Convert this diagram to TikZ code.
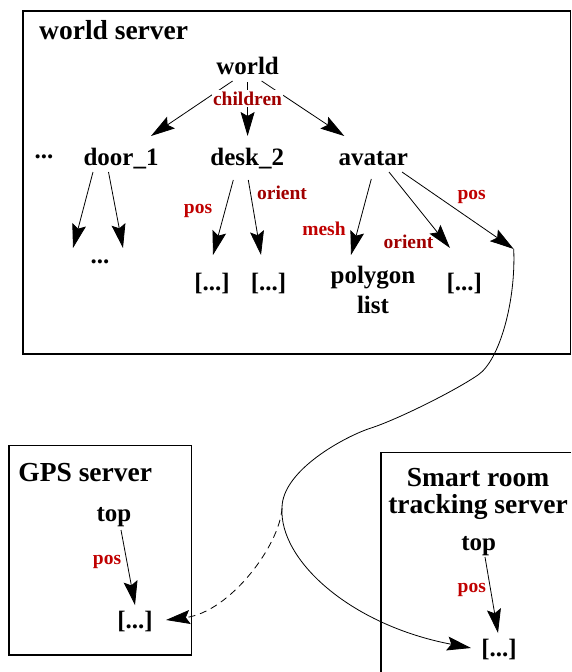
\documentclass[tikz,border=0pt]{standalone}
\usepackage{fontspec}
\setmainfont{Liberation Serif}
\usetikzlibrary{arrows.meta,calc}

\begin{document}
\begin{tikzpicture}[x=1pt, y=-1pt,
  title/.style={font=\bfseries\fontsize{27.5}{27.5}\selectfont, inner sep=0pt},
  obj/.style={font=\bfseries\fontsize{25}{30}\selectfont, inner sep=0pt},
  lbl/.style={font=\bfseries\fontsize{19.5}{20}\selectfont, inner sep=0pt, text=lblred},
  arr/.style={-{Stealth[length=24pt,width=14pt,inset=4pt]}, line width=0.8pt},
  box/.style={line width=1.1pt}]
\definecolor{lblred}{HTML}{C00000}
\definecolor{lbldark}{HTML}{A00000}
\useasboundingbox (0,0) rectangle (571,672);

% server boxes
\draw[box] (23,11) rectangle (570.3,354);
\draw[box] (9,445.7) rectangle (191.7,655);
\draw[box] (571,452.7) -- (381,452.7) -- (381,672);

% world server
\node[title, anchor=base west] (wtitle) at (39,39) {world server};
\node[obj, anchor=base] (world) at (247.6,74) {world};
\node[obj, anchor=base] (more) at (44,158) {...};
\node[obj, anchor=base] (door1) at (121,165) {door\_1};
\node[obj, anchor=base] (desk2) at (247.3,165) {desk\_2};
\node[obj, anchor=base] (avatar) at (373.3,165) {avatar};
\node[obj, anchor=base] (doorkids) at (100,263) {...};
\node[obj, anchor=base] (deskpos) at (212,290) {[...]};
\node[obj, anchor=base] (deskori) at (268.6,290) {[...]};
\node[obj, anchor=north, align=center] (avmesh) at (373,266) {polygon\\list};
\node[obj, anchor=base] (avori) at (464.3,290) {[...]};
\coordinate (avpos) at (513.7,249);

\draw[arr] ($(world.base)+(-15,7)$) -- ($(door1.base)+(30,-29)$);
\draw[arr] ($(world.base)+(0,8)$) -- ($(desk2.base)+(0.3,-29)$);
\draw[arr] ($(world.base)+(14,7)$) -- ($(avatar.base)+(-29,-29)$);
\draw[arr] ($(door1.base)+(-28,7)$) -- ($(doorkids.base)+(-27,-15)$);
\draw[arr] ($(door1.base)+(-12.5,7)$) -- ($(doorkids.base)+(23,-15)$);
\draw[arr] ($(desk2.base)+(-14,15)$) -- ($(deskpos.base)+(1,-35)$);
\draw[arr] ($(desk2.base)+(1,15)$) -- ($(deskori.base)+(-7.6,-35)$);
\draw[arr] ($(avatar.base)+(-2,14)$) -- ($(avmesh.north)+(-22,-11)$);
\draw[arr] ($(avatar.base)+(15.7,7)$) -- ($(avori.base)+(-14.3,-42)$);
\draw[arr] ($(avatar.base)+(28.7,7)$) -- (avpos);

\node[lbl, text=lbldark, anchor=base, fill=white, inner xsep=1pt, inner ysep=1.5pt] (kids) at (247.5,105.5) {children};
\node[lbl, anchor=base] (deskposl) at (198,213) {pos};
\node[lbl, text=lbldark, anchor=base] (deskoril) at (282,199.3) {orient};
\node[lbl, anchor=base] (avmeshl) at (324,235) {mesh};
\node[lbl, text=lbldark, anchor=base] (avoril) at (408.5,248.3) {orient};
\node[lbl, anchor=base] (avposl) at (471.6,199.3) {pos};

% GPS server
\node[title, anchor=base west] (gtitle) at (18.2,481) {GPS server};
\node[obj, anchor=base] (gtop) at (114,521) {top};
\node[obj, anchor=base] (gpos) at (135,628) {[...]};
\draw[arr] ($(gtop.base)+(7,9)$) -- ($(gpos.base)+(0,-23)$);
\node[lbl, anchor=base] (gposl) at (107,564) {pos};

% smart room tracking server
\node[title, anchor=north, align=center] (stitle) at (478,468) {Smart room\\tracking server};
\node[obj, anchor=base] (stop) at (478.7,550) {top};
\node[obj, anchor=base] (spos) at (499,656) {[...]};
\draw[arr] ($(stop.base)+(6.3,7)$) -- ($(spos.base)+(-1,-23)$);
\node[lbl, anchor=base] (sposl) at (471.8,592) {pos};

% pos link from the avatar to the trackers
\coordinate (split) at (282,508);
\draw[line width=0.8pt] (avpos) .. controls (516,300) and (500,360) .. (478,375)
  .. controls (453,392) and (396,420) .. (371,428)
  .. controls (346,436) and (282,470) .. (split);
\draw[arr] (split) .. controls (279,560) and (350,625) .. ($(spos.base)+(-28,-8)$);
\draw[arr, dash pattern=on 7pt off 5pt] (split) .. controls (280,545) and (230,612) .. ($(gpos.base)+(31,-8)$);
\end{tikzpicture}
\end{document}
